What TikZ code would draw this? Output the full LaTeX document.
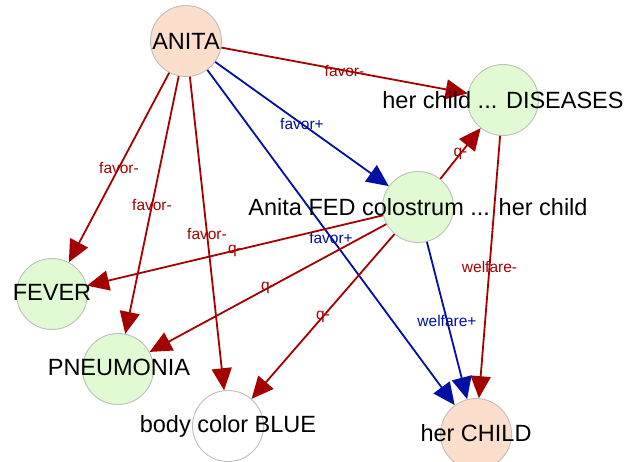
\documentclass[tikz,border=0pt]{standalone}
\usepackage{fontspec}
\setmainfont{Liberation Sans}
\usetikzlibrary{arrows.meta}
\definecolor{ered}{RGB}{165,0,0}
\definecolor{eblue}{RGB}{0,15,165}
\definecolor{peach}{RGB}{252,222,205}
\definecolor{lgreen}{RGB}{226,250,212}
\definecolor{ngray}{RGB}{190,190,190}
\tikzset{
  vert/.style={circle, draw=ngray, line width=0.9pt, minimum size=71pt, inner sep=0pt},
  peachv/.style={vert, fill=peach},
  greenv/.style={vert, fill=lgreen},
  whitev/.style={vert, fill=white},
  vtext/.style={inner sep=0pt, text=black, font=\fontsize{23.5}{28}\selectfont},
  edge/.style={line width=1.8pt, -{Triangle[length=22pt,width=20pt]}},
  redge/.style={edge, draw=ered},
  bedge/.style={edge, draw=eblue},
  elab/.style={inner sep=0pt, font=\fontsize{15.5}{18}\selectfont},
  rlab/.style={elab, text=ered},
  blab/.style={elab, text=eblue}
}
\begin{document}
\begin{tikzpicture}[x=1pt,y=-1pt]
\useasboundingbox (0,0) rectangle (636,461);
% circles
\node[peachv] (anita) at (186,41) {};
\node[greenv] (dis) at (503,100) {};
\node[greenv] (fed) at (418,207) {};
\node[greenv] (fever) at (52,294) {};
\node[greenv] (pneu) at (118,369) {};
\node[whitev] (blue) at (228,426) {};
\node[peachv] (child) at (476,434) {};
% edges
\draw[redge] (anita) -- node[rlab] (l1) {favor-} (dis);
\draw[bedge] (anita) -- node[blab] (l2) {favor+} (fed);
\draw[redge] (anita) -- node[rlab] (l3) {favor-} (fever);
\draw[redge] (anita) -- node[rlab] (l4) {favor-} (pneu);
\draw[redge] (anita) -- node[rlab] (l5) {favor-} (blue);
\draw[bedge] (anita) -- node[blab] (l6) {favor+} (child);
\draw[redge] (fed) -- node[rlab] (l7) {q-} (dis);
\draw[redge] (fed) -- node[rlab] (l8) {q-} (fever);
\draw[redge] (fed) -- node[rlab] (l9) {q-} (pneu);
\draw[redge] (fed) -- node[rlab] (l10) {q-} (blue);
\draw[bedge] (fed) -- node[blab] (l11) {welfare+} (child);
\draw[redge] (dis) -- node[rlab] (l12) {welfare-} (child);
% texts
\node[vtext] (anitat) at (anita) {ANITA};
\node[vtext] (dist) at (dis) {her child ... DISEASES};
\node[vtext] (fedt) at (fed) {Anita FED colostrum ... her child};
\node[vtext] (fevert) at (52,292) {FEVER};
\node[vtext] (pneut) at (119,367) {PNEUMONIA};
\node[vtext] (bluet) at (blue) {body color BLUE};
\node[vtext] (childt) at (476,433) {her CHILD};
\end{tikzpicture}
\end{document}
